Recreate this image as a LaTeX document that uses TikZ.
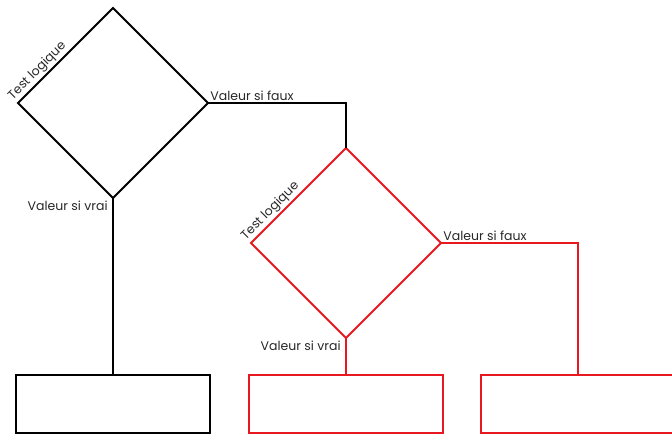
\documentclass[tikz,border=0pt]{standalone}
\usepackage{fontspec}
\setmainfont{Poppins}
\usepackage{xcolor}
\definecolor{sired}{RGB}{232,24,32}
\definecolor{sitext}{RGB}{40,40,40}
\usetikzlibrary{shapes.geometric}
\begin{document}
\begin{tikzpicture}[x=1pt,y=-1pt,line width=1.8pt,
  test/.style={shape=diamond,draw,minimum width=190pt,minimum height=190pt,inner sep=0pt,outer sep=0pt},
  result/.style={shape=rectangle,draw,minimum width=194pt,minimum height=58pt,inner sep=0pt,outer sep=0pt},
  lbl/.style={font=\fontsize{12.5}{14}\selectfont,text=sitext,inner sep=1.5pt}]
\useasboundingbox (0,0) rectangle (672,437);
% ---- premier SI ----
\node[test] (test1) at (113,103) {};
\node[result] (box1) at (113,404) {};
\draw (test1.south) -- (box1.north);
\node[lbl,rotate=45,anchor=south west,xshift=-4pt] (tl1) at (test1.west) {Test logique};
\node[lbl,anchor=south west] (vf1) at (test1.east) {Valeur si faux};
\node[lbl,anchor=north east,xshift=-3pt,yshift=-1pt] (vv1) at (test1.south) {Valeur si vrai};
% ---- SI imbriqué ----
\node[test,color=sired] (test2) at (346,243) {};
\node[result,color=sired] (box2) at (346,404) {};
\node[result,color=sired] (box3) at (578,404) {};
\draw[sired] (test2.south) -- (box2.north);
\draw[sired] (test2.east) -| (box3.north);
\draw (test1.east) -| (test2.north);
\node[lbl,rotate=45,anchor=south west,xshift=-4pt] (tl2) at (test2.west) {Test logique};
\node[lbl,anchor=south west] (vf2) at (test2.east) {Valeur si faux};
\node[lbl,anchor=north east,xshift=-3pt,yshift=-1pt] (vv2) at (test2.south) {Valeur si vrai};
\end{tikzpicture}
\end{document}
